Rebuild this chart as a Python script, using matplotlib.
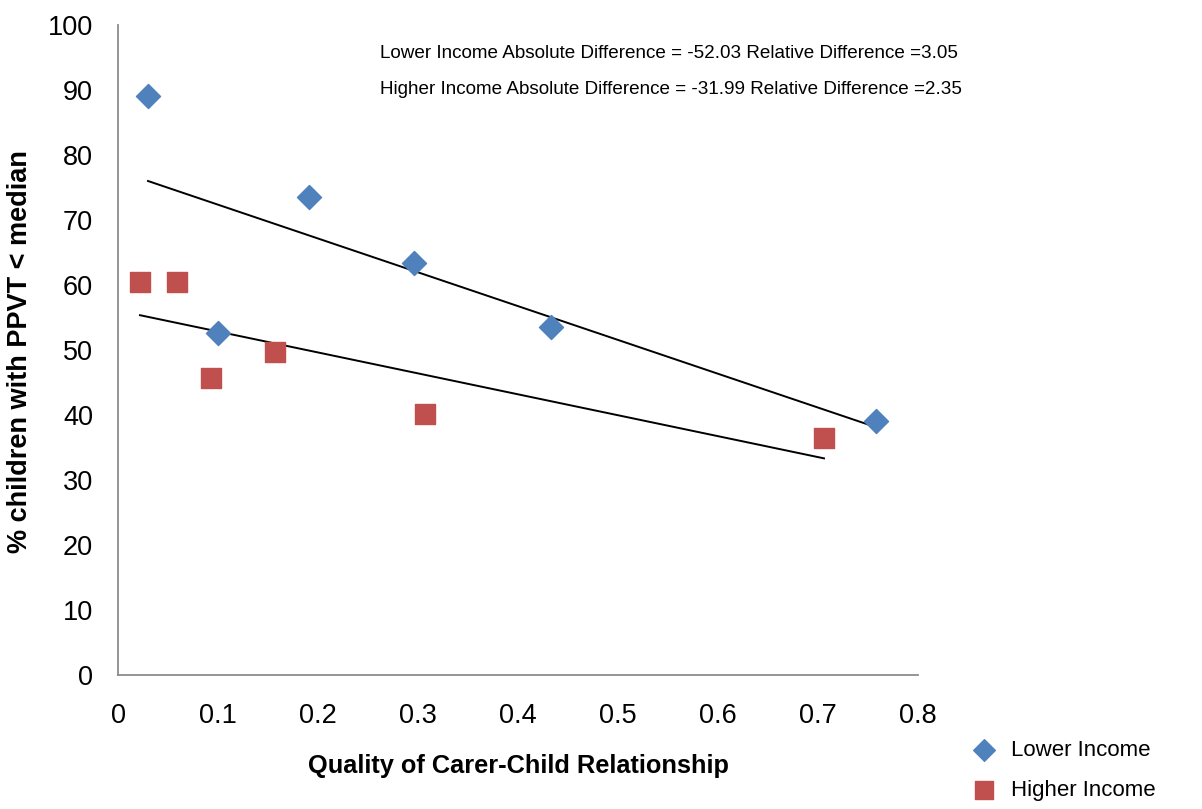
import numpy as np
import matplotlib.pyplot as plt

plt.rcParams['font.family'] = ['Liberation Sans', 'DejaVu Sans']

# carer-child relationship quality vs % below median PPVT
low_x = [0.030, 0.100, 0.191, 0.296, 0.433, 0.758]
low_y = [89.1, 52.6, 73.6, 63.4, 53.5, 39.1]
high_x = [0.022, 0.059, 0.093, 0.157, 0.307, 0.706]
high_y = [60.5, 60.5, 45.7, 49.7, 40.2, 36.5]

notes = ["Lower Income Absolute Difference = -52.03 Relative Difference =3.05",
         "Higher Income Absolute Difference = -31.99 Relative Difference =2.35"]

blue = '#4F81BD'
red = '#C0504D'

fig = plt.figure(figsize=(12.02, 8.09), dpi=100)
ax = fig.add_axes([118/1202, 1-675/809, 800/1202, 650/809])

ax.scatter(low_x, low_y, marker='D', s=150, color=blue, label='Lower Income', zorder=3)
ax.scatter(high_x, high_y, marker='s', s=190, color=red, label='Higher Income', zorder=3)

# linear trend lines over each group's range
for xs, ys in [(low_x, low_y), (high_x, high_y)]:
    k, b = np.polyfit(xs, ys, 1)
    xx = np.array([min(xs), max(xs)])
    ax.plot(xx, k*xx + b, color='black', lw=1.4, zorder=2)

ax.set_xlim(0, 0.8)
ax.set_ylim(0, 100)
ax.set_xticks(np.arange(0, 0.81, 0.1))
ax.set_xticklabels(['0'] + ['%.1f' % v for v in np.arange(0.1, 0.81, 0.1)])
ax.set_yticks(np.arange(0, 101, 10))
ax.tick_params(length=0, labelsize=19.5)
ax.tick_params(axis='x', pad=20)
ax.tick_params(axis='y', pad=18)
for s in ['top', 'right']:
    ax.spines[s].set_visible(False)
for s in ['left', 'bottom']:
    ax.spines[s].set_color('#8c8c8c')
    ax.spines[s].set_linewidth(1.3)

fig.text(518/1202, 1-766/809, 'Quality of Carer-Child Relationship', fontsize=18.3,
         fontweight='bold', ha='center', va='center')
fig.text(20/1202, 1-352/809, '% children with PPVT < median', fontsize=19.5,
         fontweight='bold', ha='center', va='center', rotation=90)

fig.text(380/1202, 1-53/809, notes[0], fontsize=13.6, va='center', ha='left')
fig.text(380/1202, 1-89/809, notes[1], fontsize=13.6, va='center', ha='left')

fig.legend(loc='upper left', bbox_to_anchor=(953/1202, 1-731/809), frameon=False,
           fontsize=16, handletextpad=0.2, labelspacing=0.85, borderaxespad=0, markerscale=0.9)

fig.savefig('out.png', dpi=100)
